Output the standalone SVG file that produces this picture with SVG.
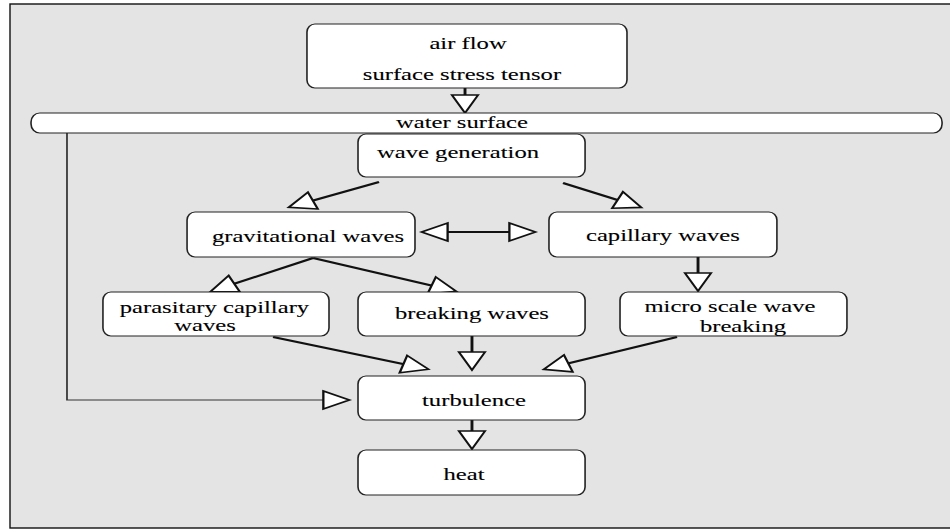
<svg xmlns="http://www.w3.org/2000/svg" width="950" height="530" viewBox="0 0 950 530">
<style>
.box{fill:#fff;stroke:#222;stroke-width:1.1}
.lbl{font-size:17px;fill:#000;stroke:#000;stroke-width:0.1;text-anchor:middle}
.con{fill:none;stroke:#111;stroke-width:2}
.thin{fill:none;stroke:#333;stroke-width:1.2}
</style>
<defs>
<marker id="tri" viewBox="0 0 18 18" refX="17" refY="9" markerWidth="18" markerHeight="18" markerUnits="userSpaceOnUse" orient="auto-start-reverse" overflow="visible">
<path d="M0,0 L18,9 L0,18 Z" fill="#fff" stroke="#111" stroke-width="1.6" stroke-linejoin="miter"/>
</marker>
</defs>
<rect x="0" y="0" width="950" height="530" fill="#fff"/>
<rect id="frame" x="10" y="4" width="960" height="524" fill="#e4e4e4" stroke="#111" stroke-width="1.4"/>
<g transform="scale(1.45,1)" font-family="'Liberation Serif', 'Times New Roman', 'DejaVu Serif', serif">
<g id="connectors">
<line class="con" x1="320.7" y1="88" x2="320.7" y2="112" marker-end="url(#tri)"/>
<line class="con" x1="261.4" y1="182" x2="200" y2="207" marker-end="url(#tri)"/>
<line class="con" x1="388.3" y1="183" x2="441.4" y2="207" marker-end="url(#tri)"/>
<line class="con" x1="291.7" y1="232" x2="368.3" y2="232" marker-start="url(#tri)" marker-end="url(#tri)"/>
<line class="con" x1="215.9" y1="258" x2="146.2" y2="291" marker-end="url(#tri)"/>
<line class="con" x1="215.9" y1="258" x2="313.8" y2="291" marker-end="url(#tri)"/>
<line class="con" x1="481.4" y1="257" x2="481.4" y2="290" marker-end="url(#tri)"/>
<line class="con" x1="188.3" y1="337" x2="294.5" y2="369" marker-end="url(#tri)"/>
<line class="con" x1="325.5" y1="336" x2="325.5" y2="369" marker-end="url(#tri)"/>
<line class="con" x1="466.9" y1="337" x2="375.9" y2="369" marker-end="url(#tri)"/>
<line class="con" x1="325.5" y1="420" x2="325.5" y2="448" marker-end="url(#tri)"/>
<polyline class="thin" points="46.2,133 46.2,400 240,400" marker-end="url(#tri)"/>
</g>
<g id="air-flow">
<rect class="box" x="211.7" y="24" width="220.7" height="64" rx="5.5" ry="8"/>
<text class="lbl" x="322.8" y="49">air flow</text>
<text class="lbl" x="318.6" y="80">surface stress tensor</text>
</g>
<g id="water-surface">
<rect class="box" x="21.4" y="113" width="628.3" height="20" rx="6" ry="9"/>
<text class="lbl" x="318.6" y="128">water surface</text>
</g>
<g id="wave-generation">
<rect class="box" x="246.9" y="134" width="156.6" height="43" rx="5.5" ry="8"/>
<text class="lbl" x="315.9" y="158">wave generation</text>
</g>
<g id="gravitational-waves">
<rect class="box" x="129" y="212" width="157.2" height="45" rx="5.5" ry="8"/>
<text class="lbl" x="212.4" y="242">gravitational waves</text>
</g>
<g id="capillary-waves">
<rect class="box" x="378.6" y="212" width="157.2" height="45" rx="5.5" ry="8"/>
<text class="lbl" x="457.2" y="241">capillary waves</text>
</g>
<g id="parasitary-capillary-waves">
<rect class="box" x="71" y="292" width="155.9" height="44" rx="5.5" ry="8"/>
<text class="lbl" x="147.9" y="313">parasitary capillary</text>
<text class="lbl" x="141.4" y="331">waves</text>
</g>
<g id="breaking-waves">
<rect class="box" x="246.9" y="292" width="156.6" height="44" rx="5.5" ry="8"/>
<text class="lbl" x="325.5" y="319">breaking waves</text>
</g>
<g id="micro-scale-wave-breaking">
<rect class="box" x="427.6" y="292" width="156.5" height="44" rx="5.5" ry="8"/>
<text class="lbl" x="503.4" y="312">micro scale wave</text>
<text class="lbl" x="512.4" y="332">breaking</text>
</g>
<g id="turbulence">
<rect class="box" x="246.9" y="376" width="156.6" height="44" rx="5.5" ry="8"/>
<text class="lbl" x="326.9" y="406">turbulence</text>
</g>
<g id="heat">
<rect class="box" x="246.9" y="450" width="156.6" height="45" rx="5.5" ry="8"/>
<text class="lbl" x="320" y="480">heat</text>
</g>
</g>
</svg>
